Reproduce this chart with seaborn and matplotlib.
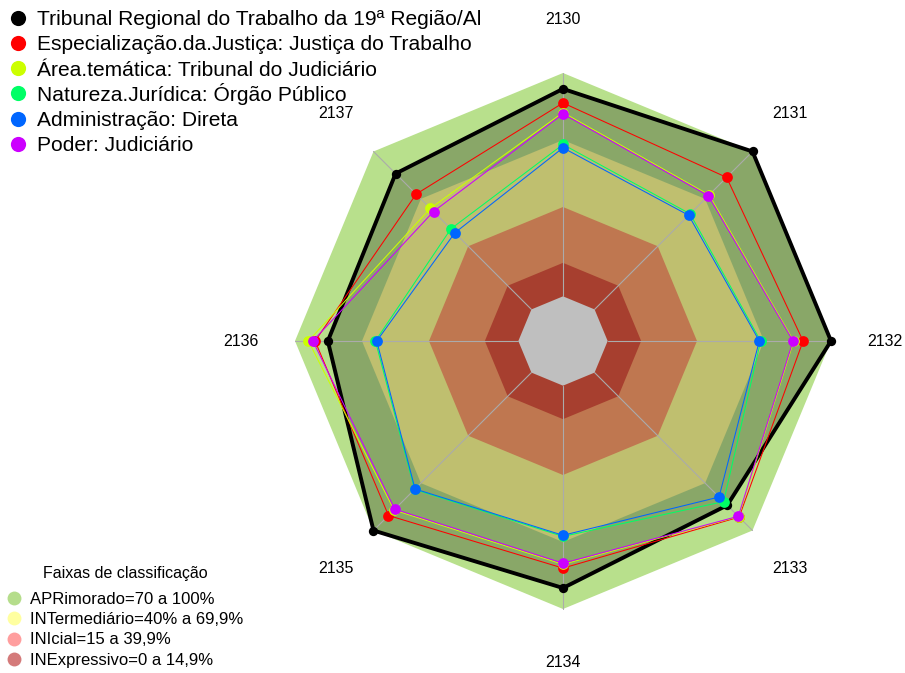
import numpy as np
import pandas as pd
import matplotlib
matplotlib.use("Agg")
import matplotlib.pyplot as plt
import seaborn as sns

# ---------------- data ----------------
categories = ["2130", "2131", "2132", "2133", "2134", "2135", "2136", "2137"]
series_names = [
    "Tribunal Regional do Trabalho da 19ª Região/Al",
    "Especialização.da.Justiça: Justiça do Trabalho",
    "Área.temática: Tribunal do Judiciário",
    "Natureza.Jurídica: Órgão Público",
    "Administração: Direta",
    "Poder: Judiciário",
]
tribunal = [92.9, 100, 100, 84, 90.6, 100, 85.3, 86]
especializacao = [86.6, 83.6, 87.5, 91.5, 81.7, 90.5, 91, 73]
area_tematica = [82.3, 72.5, 83.3, 91.2, 80, 87, 94, 64]
natureza = [68, 60.5, 68.5, 81.7, 67.5, 74, 64, 51]
administracao = [66.5, 59.6, 67.9, 78.8, 67, 73.7, 63.4, 48.5]
poder = [81.7, 72, 83, 91, 79.5, 86.5, 92, 62]
series_values = [tribunal, especializacao, area_tematica, natureza, administracao, poder]
series_colors = ["#000000", "#FF0000", "#CCFF00", "#00FF66", "#0066FF", "#CC00FF"]

band_title = "Faixas de classificação"
band_labels = ["APRimorado=70 a 100%", "INTermediário=40% a 69,9%",
               "INIcial=15 a 39,9%", "INExpressivo=0 a 14,9%"]
band_limits = [100, 70, 40, 15]
band_colors = ["#B8E08C", "#FFFF95", "#FFA06B", "#E0553F"]
legend_band_colors = ["#B5DD8B", "#FFFFA0", "#FF9E9E", "#D47A7A"]

# ---------------- style ----------------
sns.set_theme(style="white")
plt.rcParams["font.family"] = ["Liberation Sans", "DejaVu Sans"]

W, H = 905, 673
fig = plt.figure(figsize=(W / 100, H / 100), dpi=100)
ax = fig.add_axes([0, 0, 1, 1])
R = 268.0
cx, cy = 563.0, 341.0

n = len(categories)
ang = np.deg2rad(90 - 360.0 / n * np.arange(n))
r0 = 1.0 / 6.0


def rad(v):
    return r0 + np.asarray(v, dtype=float) / 100.0 * (1 - r0)


# bands
for lim, col in zip(band_limits, band_colors):
    r = rad(lim)
    ax.fill(r * np.cos(ang), r * np.sin(ang), color=col, lw=0, zorder=1)
ax.fill(r0 * np.cos(ang), r0 * np.sin(ang), color="white", lw=0, zorder=1)

# fill of first series (darkening)
rb = rad(tribunal)
ax.fill(rb * np.cos(ang), rb * np.sin(ang), color="black", alpha=0.25, lw=0, zorder=2)

# radial axis lines
for a in ang:
    ax.plot([r0 * np.cos(a), np.cos(a)], [r0 * np.sin(a), np.sin(a)],
            color="#ABABAB", lw=0.8, zorder=3)

# series
for k, vals in enumerate(series_values):
    r = rad(vals)
    xs = r * np.cos(ang)
    ys = r * np.sin(ang)
    df = pd.DataFrame({"x": np.append(xs, xs[0]), "y": np.append(ys, ys[0])})
    lw = 2.8 if k == 0 else 0.75
    sns.lineplot(data=df, x="x", y="y", sort=False, estimator=None,
                 color=series_colors[k], lw=lw, ax=ax, zorder=5 + k)
    pts = pd.DataFrame({"x": xs, "y": ys})
    sns.scatterplot(data=pts, x="x", y="y", color=series_colors[k],
                    s=45 if k == 0 else 60, linewidth=0, ax=ax, zorder=5 + k)
ax.set_xlim(-cx / R, (W - cx) / R)
ax.set_ylim(-(H - cy) / R, cy / R)
ax.axis("off")

# axis labels
for lab, a in zip(categories, ang):
    ax.text(1.2 * np.cos(a), 1.2 * np.sin(a), lab, fontsize=11.5,
            ha="center", va="center", color="black", zorder=20)

# ---------------- legends (pixel overlay) ----------------
ax2 = fig.add_axes([0, 0, 1, 1], facecolor="none")
ax2.set_xlim(0, W)
ax2.set_ylim(H, 0)
ax2.axis("off")

for i, (name, col) in enumerate(zip(series_names, series_colors)):
    y = 17.5 + 25.3 * i
    ax2.scatter([18], [y], s=120, color=col, linewidth=0)
    ax2.text(37, y + 7.4, name, fontsize=15.1, ha="left", va="baseline", color="black")

ax2.text(125, 578, band_title, fontsize=11.5, ha="center", va="baseline", color="black")
for i, (lab, col) in enumerate(zip(band_labels, legend_band_colors)):
    y = 598 + 20.3 * i
    ax2.scatter([14], [y], s=100, color=col, linewidth=0)
    ax2.text(30, y + 5.8, lab, fontsize=12, ha="left", va="baseline", color="black")

fig.savefig("out.png", dpi=100, facecolor="white")
